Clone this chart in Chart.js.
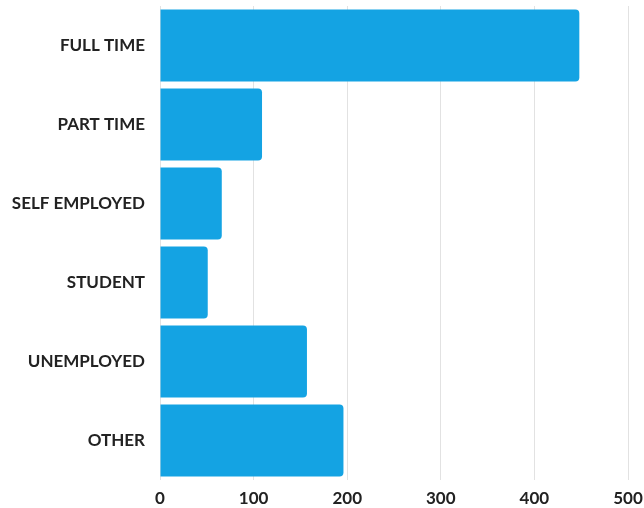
<!DOCTYPE html>
<html lang="en">
<head>
  <meta charset="UTF-8" />
  <title>Employment status</title>
  <script src="https://cdn.jsdelivr.net/npm/chart.js"></script>
  <style>
    html, body { margin: 0; padding: 0; background: #fff; }
    .box { width: 644px; height: 508px; }
  </style>
</head>
<body>
  <div class="box">
    <canvas id="grafico"></canvas>
  </div>

  <script>
    const categorias = ["FULL TIME", "PART TIME", "SELF EMPLOYED", "STUDENT", "UNEMPLOYED", "OTHER"];
    const valores = [448, 109, 66, 51, 157, 196];
    const ticksX = [0, 100, 200, 300, 400, 500];

    const ctx = document.getElementById("grafico").getContext("2d");

    new Chart(ctx, {
      type: "bar",
      data: {
        labels: categorias,
        datasets: [{
          label: "Respondents",
          data: valores,
          backgroundColor: "#14a3e3",
          borderRadius: 4,
          barPercentage: 0.91,
          categoryPercentage: 1,
        }],
      },
      options: {
        indexAxis: "y",
        responsive: true,
        maintainAspectRatio: false,
        animation: false,
        layout: {
          padding: { top: 6, right: 0, bottom: 0, left: 0 },
        },
        scales: {
          x: {
            min: ticksX[0],
            max: ticksX[ticksX.length - 1],
            afterBuildTicks: (axis) => {
              axis.ticks = ticksX.map(v => ({ value: v }));
            },
            afterFit: (axis) => {
              axis.paddingLeft = 0;
              axis.paddingRight = 16;
              axis.height = 28;
            },
            border: { display: false },
            grid: {
              color: "#e2e2e2",
              drawTicks: false,
            },
            ticks: {
              color: "#222",
              padding: 8,
              font: { family: "Lato", weight: "bold", size: 17 },
            },
          },
          y: {
            afterFit: (axis) => {
              axis.paddingTop = 0;
              axis.paddingBottom = 0;
              axis.width = 160;
            },
            border: { display: false },
            grid: { display: false, drawTicks: false },
            ticks: {
              color: "#222",
              padding: 15,
              font: { family: "Lato", weight: "bold", size: 17 },
            },
          },
        },
        plugins: {
          legend: { display: false },
          tooltip: { enabled: false },
        },
      },
    });
  </script>
</body>
</html>
